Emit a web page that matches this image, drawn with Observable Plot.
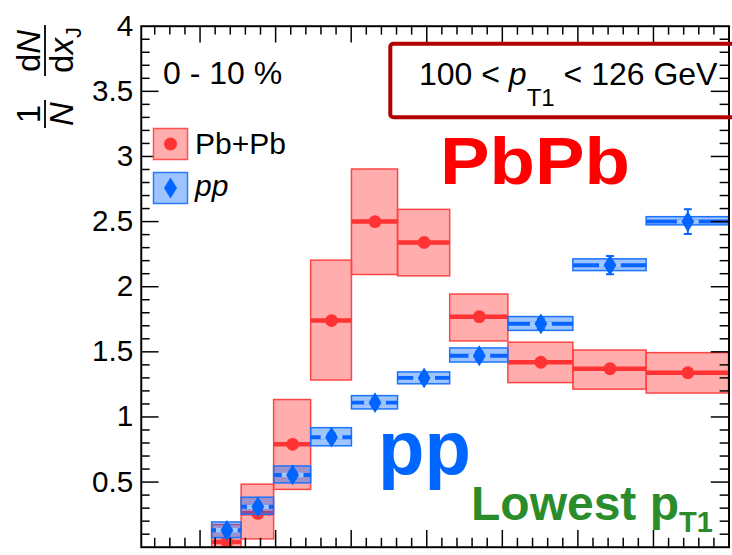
<!DOCTYPE html>
<html>
<head>
<meta charset="utf-8">
<script src="https://cdn.jsdelivr.net/npm/d3@7"></script>
<script src="https://cdn.jsdelivr.net/npm/@observablehq/plot@0.6"></script>
<style>
  html, body { margin: 0; padding: 0; overflow: hidden; background: #fff; }
  #wrap { position: relative; width: 732px; height: 555px; overflow: hidden; }
  #wrap svg { position: absolute; left: 0; top: 0; }
</style>
</head>
<body>
<div id="wrap"></div>
<script>
// x_J bin edges (logarithmic binning)
const binLo = [0.316, 0.355, 0.398, 0.447, 0.501, 0.562, 0.631, 0.708, 0.794, 0.891];
const binHi = [0.355, 0.398, 0.447, 0.501, 0.562, 0.631, 0.708, 0.794, 0.891, 1.000];

// Pb+Pb, 0-10 %: central values and systematic band
const pbVal = [0.04, 0.26, 0.79, 1.74, 2.50, 2.34, 1.77, 1.42, 1.37, 1.34];
const pbSysLo = [0.00, 0.06, 0.44, 1.28, 2.09, 2.08, 1.58, 1.26, 1.21, 1.18];
const pbSysHi = [0.17, 0.48, 1.13, 2.20, 2.90, 2.59, 1.94, 1.57, 1.51, 1.49];

// pp reference: central values, systematic band, statistical errors
const ppVal = [0.13, 0.31, 0.555, 0.845, 1.11, 1.30, 1.47, 1.715, 2.165, 2.50];
const ppSysLo = [0.07, 0.25, 0.49, 0.775, 1.058, 1.251, 1.418, 1.661, 2.12, 2.471];
const ppSysHi = [0.19, 0.38, 0.62, 0.914, 1.16, 1.342, 1.526, 1.767, 2.21, 2.534];
const ppStat = [0.03, 0.03, 0.03, 0.03, 0.03, 0.03, 0.035, 0.04, 0.07, 0.095];

// axis ticks
const yLabels = [0.5, 1, 1.5, 2, 2.5, 3, 3.5, 4];
const yMajor = [0.5, 1, 1.5, 2, 2.5, 3, 3.5];
const yMinor = d3.range(1, 40).map(i => i / 10).filter(v => Math.abs(v * 2 - Math.round(v * 2)) > 1e-6);
const xMajor = [0.3, 0.4, 0.5, 0.6, 0.7, 0.8, 0.9];
const xMinor = d3.range(12, 50).map(i => i / 50).filter(v => Math.abs(v * 10 - Math.round(v * 10)) > 1e-6);

const xDomain = [0.2222, 1.0];
const yDomain = [0, 4];

const bins = binLo.map((lo, i) => ({
  lo, hi: binHi[i], mid: (lo + binHi[i]) / 2,
  pb: pbVal[i], pbLo: pbSysLo[i], pbHi: pbSysHi[i],
  pp: ppVal[i], ppLo: ppSysLo[i], ppHi: ppSysHi[i],
  ppS1: ppVal[i] - ppStat[i], ppS2: ppVal[i] + ppStat[i]
}));

// custom marker shapes
const diamond = {draw(ctx) { ctx.moveTo(0, -10.5); ctx.lineTo(6.5, 0); ctx.lineTo(0, 10.5); ctx.lineTo(-6.5, 0); ctx.closePath(); }};
const gap = {draw(ctx) { ctx.rect(-11, -2.2, 22, 4.4); }};
const cap = {draw(ctx) { ctx.moveTo(-4, 0); ctx.lineTo(4, 0); }};

const W = 740, H = 583;
const mL = 142.3, mR = 3.5, mT = 26, mB = 30.3;
const fw = W - mL - mR, fh = H - mT - mB;

const fontFam = "'Liberation Sans', Arial, Helvetica, sans-serif";

const plot = Plot.plot({
  width: W, height: H,
  marginLeft: mL, marginRight: mR, marginTop: mT, marginBottom: mB,
  style: {fontFamily: fontFam, background: "transparent"},
  x: {domain: xDomain, axis: null},
  y: {domain: yDomain, axis: null},
  marks: [
    // Pb+Pb
    Plot.rect(bins, {x1: "lo", x2: "hi", y1: "pbLo", y2: "pbHi", fill: "#ff0000", fillOpacity: 0.32, stroke: "#ff4444", strokeWidth: 1.5, clip: true}),
    Plot.ruleY(bins, {x1: "lo", x2: "hi", y: "pb", stroke: "#ff3333", strokeWidth: 4.5, clip: true}),
    Plot.dot(bins, {x: "mid", y: "pb", r: 6.5, fill: "#ff3333", clip: true}),
    // pp
    Plot.rect(bins, {x1: "lo", x2: "hi", y1: "ppLo", y2: "ppHi", fill: "#0066ff", fillOpacity: 0.38, stroke: "#1a73ff", strokeWidth: 1.5, clip: true}),
    Plot.ruleY(bins, {x1: "lo", x2: "hi", y: "pp", stroke: "#0a64ff", strokeWidth: 4, clip: true}),
    Plot.dot(bins, {x: "mid", y: "pp", symbol: gap, fill: "#a3c8ff", clip: true}),
    Plot.ruleX(bins, {x: "mid", y1: "ppS1", y2: "ppS2", stroke: "#0a64ff", strokeWidth: 2, clip: true}),
    Plot.dot(bins, {x: "mid", y: "ppS1", symbol: cap, stroke: "#0a64ff", strokeWidth: 2, fill: "none", clip: true}),
    Plot.dot(bins, {x: "mid", y: "ppS2", symbol: cap, stroke: "#0a64ff", strokeWidth: 2, fill: "none", clip: true}),
    Plot.dot(bins, {x: "mid", y: "pp", symbol: diamond, fill: "#0064ff", clip: true}),
    // ticks on all four sides, pointing inward
    Plot.tickY(yMajor, {y: d => d, insetRight: fw - 18, stroke: "#000", strokeWidth: 1.5}),
    Plot.tickY(yMinor, {y: d => d, insetRight: fw - 9, stroke: "#000", strokeWidth: 1.5}),
    Plot.tickY(yMajor, {y: d => d, insetLeft: fw - 18, stroke: "#000", strokeWidth: 1.5}),
    Plot.tickY(yMinor, {y: d => d, insetLeft: fw - 9, stroke: "#000", strokeWidth: 1.5}),
    Plot.tickX(xMajor, {x: d => d, insetTop: fh - 17, stroke: "#000", strokeWidth: 1.5}),
    Plot.tickX(xMinor, {x: d => d, insetTop: fh - 9, stroke: "#000", strokeWidth: 1.5}),
    Plot.tickX(xMajor, {x: d => d, insetBottom: fh - 17, stroke: "#000", strokeWidth: 1.5}),
    Plot.tickX(xMinor, {x: d => d, insetBottom: fh - 9, stroke: "#000", strokeWidth: 1.5}),
    Plot.frame({stroke: "#000", strokeWidth: 2}),
    // y tick labels
    Plot.text(yLabels, {y: d => d, text: d => String(d), frameAnchor: "left", textAnchor: "end", dx: -8, fontSize: 30, fill: "#000"})
  ]
});
document.getElementById("wrap").appendChild(plot);

// annotations: axis title, legend, labels
const ns = "http://www.w3.org/2000/svg";
const ann = `
<svg xmlns="${ns}" width="${W}" height="${H}" font-family="${fontFam}" style="pointer-events:none">
  <g transform="translate(45,0) rotate(-90)" font-size="33" fill="#000">
    <text x="-114" y="-5" text-anchor="middle">1</text>
    <line x1="-128" x2="-100" y1="0" y2="0" stroke="#000" stroke-width="1.8"/>
    <text x="-114" y="28" text-anchor="middle" font-style="italic">N</text>
    <text x="-51" y="-5" text-anchor="middle">d<tspan font-style="italic">N</tspan></text>
    <line x1="-76" x2="-25" y1="0" y2="0" stroke="#000" stroke-width="1.8"/>
    <text x="-50" y="28" text-anchor="middle">d<tspan font-style="italic">x</tspan><tspan font-size="22" dy="8">J</tspan></text>
  </g>
  <text x="163" y="84" font-size="32" fill="#000">0 - 10 %</text>

  <rect x="153.5" y="128.5" width="34" height="31" fill="#ffadad" stroke="#ff5050" stroke-width="1.5"/>
  <circle cx="170.5" cy="144" r="6.5" fill="#ff3333"/>
  <text x="195" y="154" font-size="30" fill="#000">Pb+Pb</text>
  <rect x="153.5" y="172.5" width="34" height="31" fill="#9ec4ff" stroke="#2a78ff" stroke-width="1.5"/>
  <path d="M170.5,177.5 L177,188 L170.5,198.5 L164,188 Z" fill="#0064ff"/>
  <text x="195" y="196" font-size="30" font-style="italic" fill="#000">pp</text>

  <rect x="390.3" y="43.7" width="400" height="73.6" rx="3" fill="none" stroke="#b30000" stroke-width="4"/>
  <text x="419" y="85" font-size="32" fill="#000">100 &lt; <tspan font-style="italic">p</tspan><tspan font-size="24" dy="21">T1</tspan><tspan dy="-21"> &lt; 126 GeV</tspan></text>

  <text x="440" y="184" font-size="66" font-weight="bold" textLength="190" lengthAdjust="spacingAndGlyphs" fill="#ff0000">PbPb</text>
  <text x="378" y="474" font-size="76" font-weight="bold" fill="#0066ff">pp</text>
  <text x="471" y="520" font-size="48" font-weight="bold" fill="#2b8c2b">Lowest p<tspan font-size="29" dy="12">T1</tspan></text>
</svg>`;
document.getElementById("wrap").insertAdjacentHTML("beforeend", ann);
</script>
</body>
</html>
